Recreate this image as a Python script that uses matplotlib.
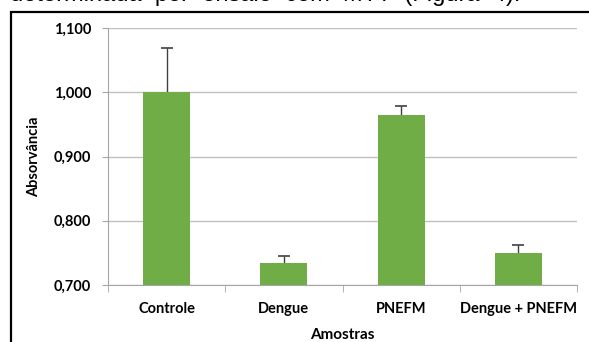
import numpy as np
import matplotlib.pyplot as plt
from matplotlib.patches import Rectangle

# dados
amostras = ['Controle', 'Dengue', 'PNEFM', 'Dengue + PNEFM']
absorvancia = [1.000, 0.734, 0.965, 0.750]
erro = [0.069, 0.011, 0.013, 0.013]
yticks = [0.7, 0.8, 0.9, 1.0, 1.1]

W, H = 589, 342
fig = plt.figure(figsize=(W / 100, H / 100), dpi=100)

# texto cortado no topo da pagina
fig.text(520 / W, 1 - 1.5 / H, 'determinada  por  ensaio  com  MTT  (Figura  4).',
         ha='right', va='baseline', fontsize=17, family='Liberation Sans',
         color='black')

# moldura preta do grafico
fig.patches.append(Rectangle((10.5 / W, -0.1), 2, 1 - 11.5 / H + 0.1,
                             transform=fig.transFigure, fill=False,
                             edgecolor='black', linewidth=1.6))

ax = fig.add_axes([108 / W, 1 - 285 / H, (577 - 108) / W, (285 - 28) / H])
x = np.arange(len(amostras))
topo = np.add(absorvancia, erro)
ax.bar(x, absorvancia, width=0.4, color='#70AD47', zorder=3)
ax.errorbar(x, absorvancia, yerr=[np.zeros(len(erro)), erro], fmt='none',
            ecolor='#404040', elinewidth=1, zorder=2)
ax.plot(x, topo, ls='none', marker='_', markersize=8, mew=1.2,
        color='#404040', zorder=4)

ax.set_xlim(-0.5, len(amostras) - 0.5)
ax.set_ylim(0.7, 1.1)
ax.set_yticks(yticks)
ax.set_yticklabels([f'{v:.3f}'.replace('.', ',') for v in yticks])
ax.set_xticks(x)
ax.set_xticklabels(amostras)
ax.set_xticks(np.arange(-0.5, len(amostras)), minor=True)

ax.grid(axis='y', color='#c0c0c0', linewidth=1, zorder=0)
for s in ['top', 'right']:
    ax.spines[s].set_visible(False)
ax.spines['left'].set_color('#a6a6a6')
ax.spines['bottom'].set_color('#a6a6a6')

ax.tick_params(axis='x', which='major', length=0, pad=12)
ax.tick_params(axis='x', which='minor', length=5, color='#a6a6a6')
ax.tick_params(axis='y', length=4, color='#a6a6a6', pad=8)
for lab in ax.get_xticklabels() + ax.get_yticklabels():
    lab.set_fontfamily('Lato')
    lab.set_fontweight('bold')
    lab.set_fontsize(10.5)

ax.set_xlabel('Amostras', fontfamily='Lato', fontweight='bold', fontsize=11,
              labelpad=9)
ax.set_ylabel('Absorvância', fontfamily='Lato', fontweight='bold', fontsize=10.5,
              labelpad=9)

plt.savefig('out.png', dpi=100)
